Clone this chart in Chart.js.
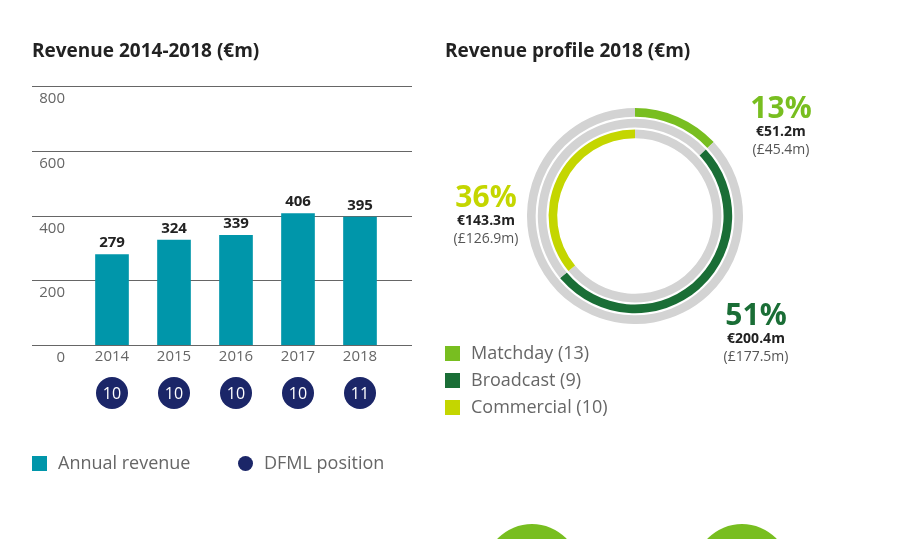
<!DOCTYPE html>
<html>
<head>
<meta charset="utf-8">
<script src="https://cdn.jsdelivr.net/npm/chart.js@4.4.1/dist/chart.umd.min.js"></script>
<style>
  body { margin: 0; width: 897px; height: 539px; overflow: hidden; background: #fff; font-family: "Open Sans", sans-serif; position: relative; }
  .abs { position: absolute; white-space: nowrap; }
  .title { font-weight: bold; font-size: 19px; color: #222; }
  .leg { font-size: 18px; color: #666; }
  .sw { position: absolute; width: 15px; height: 15px; }
  .pct { font-weight: bold; font-size: 30px; line-height: 30px; }
  .eur { font-weight: bold; font-size: 14px; color: #222; line-height: 18px; }
  .gbp { font-size: 14px; color: #555; line-height: 18px; }
  .blob { position: absolute; width: 96px; height: 96px; border-radius: 50%; background: #78be20; }
</style>
</head>
<body>
<canvas id="barChart" width="897" height="539" style="position:absolute;left:0;top:0"></canvas>
<canvas id="pieChart" width="216" height="216" style="position:absolute;left:527px;top:108px"></canvas>

<div class="abs title" style="left:32px;top:37px">Revenue 2014-2018 (€m)</div>
<div class="abs title" style="left:445px;top:37px">Revenue profile 2018 (€m)</div>

<div class="sw" style="left:32px;top:456px;background:#0096aa"></div>
<div class="abs leg" style="left:58px;top:450px">Annual revenue</div>
<div class="sw" style="left:238px;top:456px;background:#1b2668;border-radius:50%"></div>
<div class="abs leg" style="left:264px;top:450px">DFML position</div>

<div class="sw" style="left:445px;top:346px;background:#78be20"></div>
<div class="abs leg" style="left:471px;top:340px">Matchday (13)</div>
<div class="sw" style="left:445px;top:373px;background:#1a6e36"></div>
<div class="abs leg" style="left:471px;top:367px">Broadcast (9)</div>
<div class="sw" style="left:445px;top:400px;background:#c4d600"></div>
<div class="abs leg" style="left:471px;top:394px">Commercial (10)</div>

<div class="abs" style="left:746px;top:92px;text-align:center;width:70px">
  <div class="pct" style="color:#78be20">13%</div>
  <div class="eur">€51.2m</div>
  <div class="gbp">(£45.4m)</div>
</div>
<div class="abs" style="left:449px;top:181px;text-align:center;width:74px">
  <div class="pct" style="color:#c4d600">36%</div>
  <div class="eur">€143.3m</div>
  <div class="gbp">(£126.9m)</div>
</div>
<div class="abs" style="left:718px;top:299px;text-align:center;width:76px">
  <div class="pct" style="color:#1a6e36">51%</div>
  <div class="eur">€200.4m</div>
  <div class="gbp">(£177.5m)</div>
</div>

<div class="blob" style="left:484px;top:524px"></div>
<div class="blob" style="left:694px;top:524px"></div>

<script>
var years = ['2014', '2015', '2016', '2017', '2018'];
var revenue = [279, 324, 339, 406, 395];
var positions = [10, 10, 10, 10, 11];
var yTicks = [0, 200, 400, 600, 800];

var shareLabels = ['Matchday', 'Broadcast', 'Commercial'];
var shares = [13, 51, 36];
var shareColors = ['#78be20', '#1a6e36', '#c4d600'];

// Draws grid, tick labels, year labels, position circles and value labels
var barDecor = {
    id: 'barDecor',
    beforeDatasetsDraw: function(chart) {
        var ctx = chart.ctx;
        var y = chart.scales.y;
        ctx.save();
        yTicks.forEach(function(t) {
            var py = Math.round(y.getPixelForValue(t)) + 0.5;
            ctx.strokeStyle = '#666';
            ctx.lineWidth = 1;
            ctx.beginPath(); ctx.moveTo(32, py); ctx.lineTo(412, py); ctx.stroke();
        });
        ctx.restore();
    },
    afterDatasetsDraw: function(chart) {
        var ctx = chart.ctx;
        var y = chart.scales.y, x = chart.scales.x;
        ctx.save();
        ctx.font = '15px "Open Sans"';
        yTicks.forEach(function(t) {
            var py = Math.round(y.getPixelForValue(t)) + 0.5;
            ctx.fillStyle = '#666';
            ctx.textAlign = 'right';
            ctx.textBaseline = 'top';
            ctx.fillText(String(t), 65, py + 5);
        });
        years.forEach(function(yr, i) {
            var px = x.getPixelForValue(i);
            ctx.fillStyle = '#666';
            ctx.textAlign = 'center';
            ctx.textBaseline = 'top';
            ctx.font = '15px "Open Sans"';
            ctx.fillText(yr, px, y.getPixelForValue(0) + 4);
            ctx.fillStyle = '#222';
            ctx.font = 'bold 15px "Open Sans"';
            ctx.textBaseline = 'bottom';
            ctx.fillText(String(revenue[i]), px, y.getPixelForValue(revenue[i]) - 4);
            ctx.fillStyle = '#1b2668';
            ctx.beginPath(); ctx.arc(px, 393, 16, 0, Math.PI * 2); ctx.fill();
            ctx.fillStyle = '#fff';
            ctx.font = '16px "Open Sans"';
            ctx.textBaseline = 'middle';
            ctx.fillText(String(positions[i]), px, 394);
        });
        ctx.restore();
    }
};

new Chart(document.getElementById('barChart'), {
    type: 'bar',
    data: {
        labels: years,
        datasets: [{ label: 'Annual revenue', data: revenue, backgroundColor: '#0096aa', barThickness: 33 }]
    },
    options: {
        responsive: false,
        animation: false,
        layout: { padding: { left: 81, right: 506, top: 86, bottom: 194 } },
        plugins: { legend: { display: false }, tooltip: { enabled: false } },
        scales: {
            x: { display: false },
            y: { display: false, min: 0, max: 800 }
        }
    },
    plugins: [barDecor]
});

var gray = '#d3d3d3';
var before = [], after = [];
var acc = 0;
shares.forEach(function(s) { before.push(acc); acc += s; after.push(100 - acc); });
var ringSets = [];
shares.forEach(function(s, i) {
    if (i > 0) ringSets.push({ data: [100], backgroundColor: ['rgba(0,0,0,0)'], borderWidth: 0, weight: 0.25 });
    ringSets.push({
        label: shareLabels[i],
        data: [before[i], s, after[i]],
        backgroundColor: [gray, shareColors[i], gray],
        borderWidth: 0,
        weight: 1
    });
});

new Chart(document.getElementById('pieChart'), {
    type: 'doughnut',
    data: { labels: ['', '', ''], datasets: ringSets },
    options: {
        responsive: false,
        animation: false,
        cutout: '72%',
        plugins: { legend: { display: false }, tooltip: { enabled: false } }
    }
});
</script>
</body>
</html>
